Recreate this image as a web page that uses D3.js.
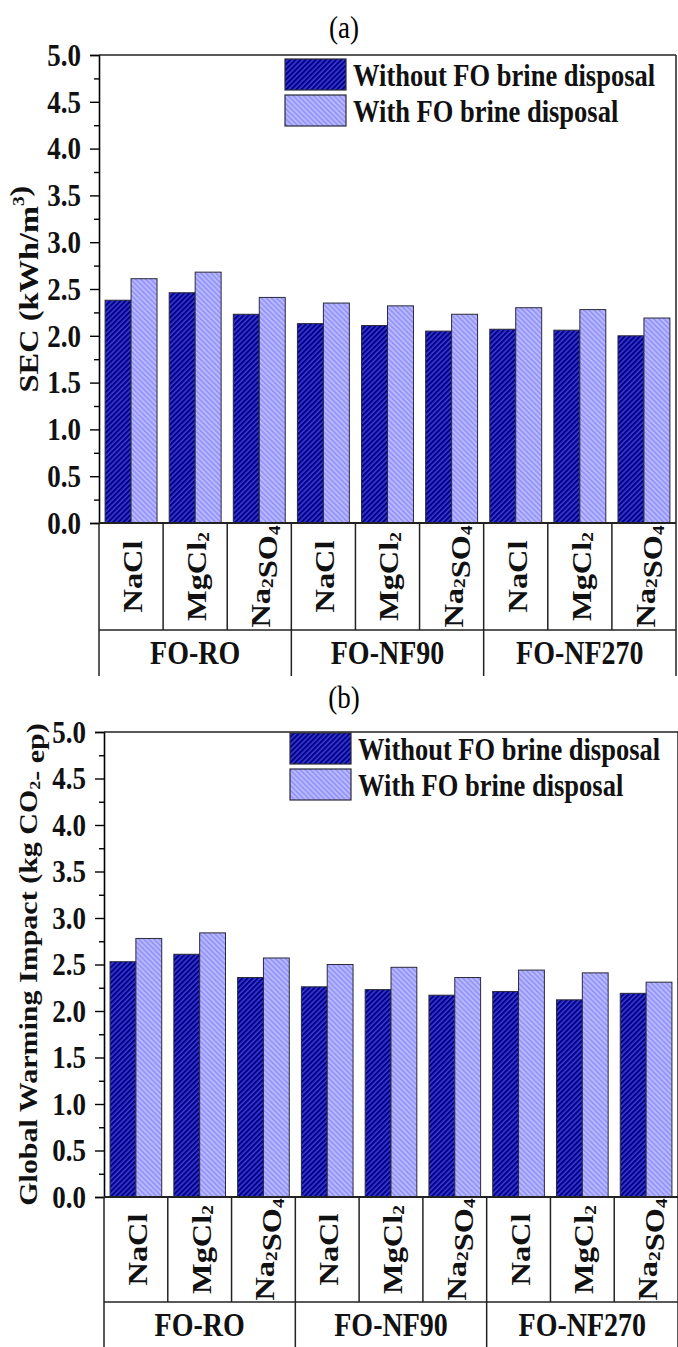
<!DOCTYPE html>
<html>
<head>
<meta charset="utf-8">
<script src="https://cdn.jsdelivr.net/npm/d3@7"></script>
<style>
  body { margin: 0; background: #fff; }
  text { font-family: "Liberation Serif", "Times New Roman", serif; }
</style>
</head>
<body>
<div id="chart"></div>
<script>
// categories
const groups = ["FO-RO", "FO-NF90", "FO-NF270"];
const salts = [["Na", "Cl", ""], ["Mg", "Cl", "2"], ["Na", "2", "SO", "4"]];
const seriesNames = ["Without FO brine disposal", "With FO brine disposal"];

// panel (a) SEC, kWh/m3
const secWithout = [2.38, 2.46, 2.23, 2.13, 2.11, 2.05, 2.07, 2.06, 2.00];
const secWith    = [2.61, 2.68, 2.41, 2.35, 2.32, 2.23, 2.30, 2.28, 2.19];

// panel (b) global warming impact
const gwiWithout = [2.53, 2.61, 2.36, 2.26, 2.23, 2.17, 2.21, 2.12, 2.19];
const gwiWith    = [2.78, 2.84, 2.57, 2.50, 2.47, 2.36, 2.44, 2.41, 2.31];

const yTicks = [0, 0.5, 1, 1.5, 2, 2.5, 3, 3.5, 4, 4.5, 5];
const yMinor = [0.25, 0.75, 1.25, 1.75, 2.25, 2.75, 3.25, 3.75, 4.25, 4.75];

const width = 678, height = 1347;
const stretch = 1.2; // the source figure's lettering is drawn tall and narrow

const svg = d3.select("#chart").append("svg")
  .attr("width", width)
  .attr("height", height);

// hatch patterns
const defs = svg.append("defs");
function hatch(id, bg, fg, angle) {
  const p = defs.append("pattern")
    .attr("id", id)
    .attr("patternUnits", "userSpaceOnUse")
    .attr("width", 3.6).attr("height", 3.6)
    .attr("patternTransform", `rotate(${angle})`);
  p.append("rect").attr("width", 3.6).attr("height", 3.6).attr("fill", bg);
  p.append("line").attr("x1", 1).attr("x2", 1).attr("y1", 0).attr("y2", 3.6)
    .attr("stroke", fg).attr("stroke-width", 1);
}
hatch("darkHatch", "#000087", "#5a5aff", 45);
hatch("lightHatch", "#9595fb", "#d6d6ff", -45);
const fills = ["url(#darkHatch)", "url(#lightHatch)"];

// write text pieces, with sub/superscripts as shifted tspans
function addParts(t, parts) {
  parts.forEach(([txt, kind]) => {
    if (kind === "sup") {
      t.append("tspan").attr("dy", -9).attr("font-size", "0.6em").text(txt);
      t.append("tspan").attr("dy", 9).text("");
    } else if (kind === "sub") {
      t.append("tspan").attr("dy", 7).attr("font-size", "0.6em").text(txt);
      t.append("tspan").attr("dy", -7).text("");
    } else {
      t.append("tspan").text(txt);
    }
  });
}

function drawPanel(cfg) {
  const g = svg.append("g");
  const n = cfg.values[0].length;

  const x = d3.scaleBand().domain(d3.range(n))
    .range([cfg.x0, cfg.x1]).paddingInner(0.19).paddingOuter(0.095);
  const xs = d3.scaleBand().domain([0, 1]).range([0, x.bandwidth()]);
  const y = d3.scaleLinear().domain([0, 5]).range([cfg.yBottom, cfg.yTop]);
  const step = (cfg.x1 - cfg.x0) / n;

  // panel label
  g.append("text")
    .attr("transform", `translate(344,${cfg.labelY}) scale(1,${stretch})`)
    .attr("text-anchor", "middle")
    .attr("dominant-baseline", "central")
    .attr("font-size", 27)
    .text(cfg.label);

  // bars
  cfg.values.forEach((vals, s) => {
    g.append("g").selectAll("rect")
      .data(vals)
      .join("rect")
      .attr("x", (d, i) => x(i) + xs(s))
      .attr("y", d => y(d))
      .attr("width", xs.bandwidth())
      .attr("height", d => y(0) - y(d))
      .attr("fill", fills[s])
      .attr("stroke", "#2a2a3a")
      .attr("stroke-width", 1);
  });

  // y axis with major and minor ticks
  const ax = g.append("g").attr("transform", `translate(${cfg.x0},0)`)
    .call(d3.axisLeft(y).tickValues(yTicks).tickFormat(d3.format(".1f"))
      .tickSize(9).tickPadding(9));
  ax.select(".domain").attr("stroke-width", 1.6);
  ax.selectAll(".tick line").attr("stroke-width", 1.4);
  ax.selectAll(".tick text")
    .attr("font-family", "Liberation Serif, serif")
    .attr("font-weight", "bold")
    .attr("font-size", 27)
    .attr("fill", "#111")
    .attr("transform", `scale(1,${stretch})`);
  const mn = g.append("g").attr("transform", `translate(${cfg.x0},0)`)
    .call(d3.axisLeft(y).tickValues(yMinor).tickFormat("").tickSize(5));
  mn.select(".domain").remove();
  mn.selectAll(".tick line").attr("stroke-width", 1.4);

  // frame
  const line = (x1, y1, x2, y2, w) => g.append("line")
    .attr("x1", x1).attr("y1", y1).attr("x2", x2).attr("y2", y2)
    .attr("stroke", "#222").attr("stroke-width", w || 1.5);
  line(cfg.x0, cfg.yTop, cfg.x1, cfg.yTop, 1.6);
  line(cfg.x0, cfg.yBottom, cfg.x1, cfg.yBottom, 1.8);
  line(cfg.x1, cfg.yTop, cfg.x1, cfg.tableBottom);
  line(cfg.x0, cfg.yBottom, cfg.x0, cfg.tableBottom);

  // category table
  d3.range(1, n).forEach(i => line(cfg.x0 + i * step, cfg.yBottom, cfg.x0 + i * step, cfg.saltBottom));
  line(cfg.x0, cfg.saltBottom, cfg.x1, cfg.saltBottom);
  d3.range(1, groups.length).forEach(k =>
    line(cfg.x0 + k * 3 * step, cfg.saltBottom, cfg.x0 + k * 3 * step, cfg.tableBottom));

  const saltMid = (cfg.yBottom + cfg.saltBottom) / 2;
  d3.range(n).forEach(i => {
    const parts = salts[i % 3].filter(p => p).map(p => [p, /^\d+$/.test(p) ? "sub" : ""]);
    const t = g.append("text")
      .attr("transform", `translate(${cfg.x0 + (i + 0.5) * step + 1},${saltMid}) rotate(-90) scale(${stretch},1)`)
      .attr("text-anchor", "middle")
      .attr("dominant-baseline", "central")
      .attr("font-weight", "bold")
      .attr("font-size", 27)
      .attr("fill", "#111");
    addParts(t, parts);
  });

  const groupMid = (cfg.saltBottom + Math.min(cfg.tableBottom, cfg.saltBottom + 46)) / 2;
  groups.forEach((name, k) => {
    g.append("text")
      .attr("transform", `translate(${cfg.x0 + (k * 3 + 1.5) * step},${groupMid}) scale(1,${stretch})`)
      .attr("text-anchor", "middle")
      .attr("dominant-baseline", "central")
      .attr("font-weight", "bold")
      .attr("font-size", 28)
      .attr("fill", "#111")
      .text(name);
  });

  // y title
  const yt = g.append("text")
    .attr("transform", `translate(${cfg.titleX},${(cfg.yTop + cfg.yBottom) / 2}) rotate(-90) scale(${stretch},1)`)
    .attr("text-anchor", "middle")
    .attr("dominant-baseline", "central")
    .attr("font-weight", "bold")
    .attr("font-size", cfg.titleSize)
    .attr("fill", "#111");
  addParts(yt, cfg.title);

  // legend
  seriesNames.forEach((name, s) => {
    const ly = cfg.legendY + s * 36;
    g.append("rect")
      .attr("x", cfg.legendX).attr("y", ly)
      .attr("width", 61).attr("height", 31)
      .attr("fill", fills[s])
      .attr("stroke", "#2a2a3a").attr("stroke-width", 1.2);
    g.append("text")
      .attr("transform", `translate(${cfg.legendX + 68},${ly + 16}) scale(1,${stretch})`)
      .attr("dominant-baseline", "central")
      .attr("font-weight", "bold")
      .attr("font-size", 26.5)
      .attr("fill", "#111")
      .text(name);
  });
}

drawPanel({
  label: "(a)", labelY: 27,
  values: [secWithout, secWith],
  x0: 99, x1: 676, yTop: 55, yBottom: 523, saltBottom: 630, tableBottom: 676,
  title: [["SEC (kWh/m", ""], ["3", "sup"], [")", ""]], titleX: 28, titleSize: 27,
  legendX: 285, legendY: 59
});

drawPanel({
  label: "(b)", labelY: 697,
  values: [gwiWithout, gwiWith],
  x0: 104, x1: 678, yTop: 732, yBottom: 1197, saltBottom: 1302, tableBottom: 1350,
  title: [["Global Warming Impact (kg CO", ""], ["2", "sub"], ["- ep)", ""]], titleX: 28, titleSize: 25,
  legendX: 290, legendY: 733
});
</script>
</body>
</html>
